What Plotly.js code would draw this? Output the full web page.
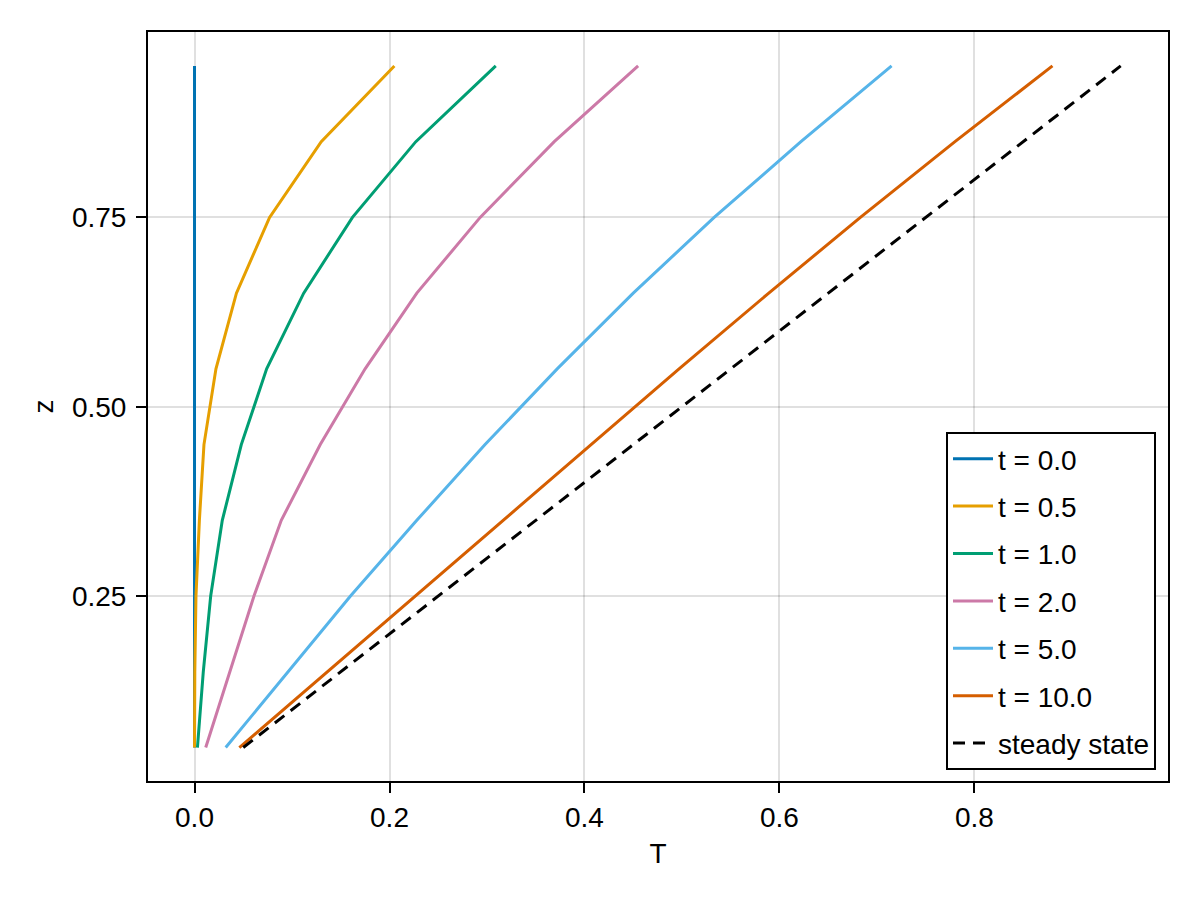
<!DOCTYPE html>
<html>
<head>
<meta charset="utf-8">
<script src="https://cdn.plot.ly/plotly-3.0.1.min.js"></script>
<style>
  html, body { margin: 0; padding: 0; background: #fff; }
  #chart { width: 1200px; height: 900px; }
</style>
</head>
<body>
<div id="chart"></div>
<script>
// depth levels (y axis)
var zLevels = [0.05, 0.15, 0.25, 0.35, 0.45, 0.55, 0.65, 0.75, 0.85, 0.95];

// temperature profiles
var tLabels = ["t = 0.0", "t = 0.5", "t = 1.0", "t = 2.0", "t = 5.0", "t = 10.0"];
var T_t00 = [0, 0, 0, 0, 0, 0, 0, 0, 0, 0];
var T_t05 = [0.0, 0.0003, 0.0015, 0.005, 0.0097, 0.022, 0.043, 0.077, 0.130, 0.205];
var T_t10 = [0.003, 0.009, 0.0166, 0.0285, 0.048, 0.074, 0.112, 0.162, 0.227, 0.309];
var T_t20 = [0.0115, 0.036, 0.061, 0.089, 0.129, 0.175, 0.228, 0.293, 0.369, 0.455];
var T_t50 = [0.032, 0.096, 0.160, 0.228, 0.298, 0.372, 0.450, 0.533, 0.622, 0.715];
var T_t100 = [0.046, 0.136, 0.226, 0.317, 0.407, 0.497, 0.589, 0.683, 0.780, 0.880];
var T_steady = [0.05, 0.15, 0.25, 0.35, 0.45, 0.55, 0.65, 0.75, 0.85, 0.95];

var xTicks = [0, 0.2, 0.4, 0.6, 0.8];
var yTicks = [0.25, 0.5, 0.75];

var profiles = [T_t00, T_t05, T_t10, T_t20, T_t50, T_t100];
var colors = ["#0072B2", "#E69F00", "#009E73", "#CC79A7", "#56B4E9", "#D55E00"];
var fontFam = "Liberation Sans, Arial, sans-serif";

var traces = profiles.map(function(p, i) {
  return {
    type: "scatter", mode: "lines",
    x: p, y: zLevels,
    name: tLabels[i],
    legendgroup: "g" + i,
    line: { color: colors[i], width: 3 }
  };
});
traces.push({
  type: "scatter", mode: "lines",
  x: T_steady, y: zLevels,
  name: "steady state",
  legendgroup: "gs",
  line: { color: "#000", width: 3, dash: "12px,8px" }
});

var W = 1200, H = 900;
var m = { l: 148, r: 32, t: 32, b: 119 };
var pw = W - m.l - m.r, ph = H - m.t - m.b;

var axisCommon = {
  showline: true, mirror: true, linecolor: "#000", linewidth: 2,
  showgrid: true, gridcolor: "rgba(0,0,0,0.12)", gridwidth: 2,
  zeroline: false,
  ticks: "outside", ticklen: 10, tickwidth: 2, tickcolor: "#000",
  tickfont: { family: fontFam, size: 28, color: "#000" }
};

var layout = {
  width: W, height: H,
  margin: m,
  paper_bgcolor: "#fff", plot_bgcolor: "#fff",
  font: { family: fontFam, size: 28, color: "#000" },
  showlegend: true,
  xaxis: Object.assign({}, axisCommon, {
    range: [-0.0477, 0.9985],
    tickvals: xTicks, tickformat: ".1f",
    title: { text: "T", font: { family: fontFam, size: 28 }, standoff: 12 }
  }),
  yaxis: Object.assign({}, axisCommon, {
    range: [0.0058, 0.9948],
    tickvals: yTicks, tickformat: ".2f",
    ticklabelstandoff: 4,
    title: { text: "z", font: { family: fontFam, size: 28 }, standoff: 10 }
  }),
  legend: {
    x: 1 - 12 / pw, xanchor: "right",
    y: 11 / ph, yanchor: "bottom",
    bgcolor: "#fff", bordercolor: "#000", borderwidth: 2,
    font: { family: fontFam, size: 28, color: "#000" },
    itemwidth: 40,
    tracegroupgap: 8
  }
};

Plotly.newPlot("chart", traces, layout, { displayModeBar: false, staticPlot: true });
</script>
</body>
</html>
